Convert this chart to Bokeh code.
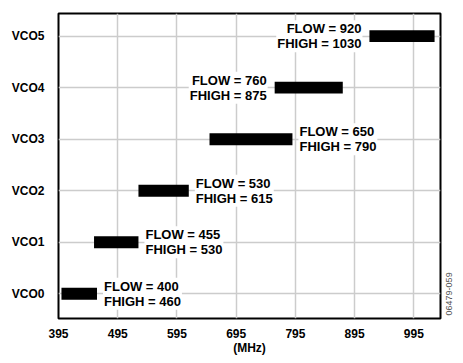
import math
from bokeh.plotting import figure
from bokeh.models import ColumnDataSource, FixedTicker, Label, LinearAxis
from bokeh.embed import file_html
from bokeh.resources import INLINE

vcos = ["VCO0", "VCO1", "VCO2", "VCO3", "VCO4", "VCO5"]
flow = [400, 455, 530, 650, 760, 920]
fhigh = [460, 530, 615, 790, 875, 1030]
x_ticks = [395, 495, 595, 695, 795, 895, 995]
label_left = [False, False, False, False, True, True]
figure_code = "06479-059"

FONT = "Liberation Sans"

p = figure(frame_width=382, frame_height=305, output_backend="svg", toolbar_location=None,
           x_range=(395, 1040), y_range=(-0.48, 5.44))
p.min_border_left = 50
p.min_border_right = 14
p.min_border_top = 5
p.min_border_bottom = 30
p.margin = (8, 0, 0, 8)

ys = list(range(len(vcos)))
src = ColumnDataSource(dict(y=ys, left=flow, right=fhigh))

p.hbar(y="y", left="left", right="right", height=0.23, source=src,
       fill_color="black", line_color=None)

for i in range(len(vcos)):
    lab_txt = f"FLOW = {flow[i]}\nFHIGH = {fhigh[i]}"
    if label_left[i]:
        lab = Label(x=flow[i], y=ys[i], text=lab_txt, x_offset=-7, text_align="right",
                    text_baseline="middle")
    else:
        lab = Label(x=fhigh[i], y=ys[i], text=lab_txt, x_offset=6, text_align="left",
                    text_baseline="middle")
    lab.text_font = FONT
    lab.text_font_style = "bold"
    lab.text_font_size = "13px"
    lab.text_line_height = 1.0
    lab.text_color = "black"
    lab.background_fill_color = "white"
    lab.padding = 1
    p.add_layout(lab)

p.xaxis.ticker = FixedTicker(ticks=x_ticks)
p.yaxis.ticker = FixedTicker(ticks=ys)
p.yaxis.major_label_overrides = {i: v for i, v in enumerate(vcos)}
p.xaxis.axis_label = "(MHz)"

for ax in (p.xaxis, p.yaxis):
    ax.major_tick_line_color = None
    ax.minor_tick_line_color = None
    ax.axis_line_color = None
    ax.major_label_text_font = FONT
    ax.major_label_text_font_style = "bold"
    ax.major_label_text_font_size = "12px"
    ax.major_label_text_color = "black"
    ax.axis_label_text_font = FONT
    ax.axis_label_text_font_style = "bold"
    ax.axis_label_text_font_size = "12px"
    ax.axis_label_text_color = "black"

p.xaxis.major_label_standoff = 4
p.xaxis.axis_label_standoff = 0
p.yaxis.major_label_standoff = 8

# figure code printed vertically at the right edge
wm_axis = LinearAxis(ticker=FixedTicker(ticks=[-0.42]),
                     major_label_overrides={-0.42: figure_code},
                     major_label_orientation=math.pi / 2,
                     major_label_standoff=3,
                     major_label_text_font=FONT,
                     major_label_text_font_size="9px",
                     major_label_text_color="#555555",
                     major_tick_line_color=None, minor_tick_line_color=None,
                     axis_line_color=None)
p.add_layout(wm_axis, "right")

p.grid.grid_line_color = "#cccccc"
p.grid.grid_line_width = 1.5
p.outline_line_color = "black"
p.outline_line_width = 2
p.outline_line_alpha = 1

open("out.html", "w").write(file_html(p, INLINE))
